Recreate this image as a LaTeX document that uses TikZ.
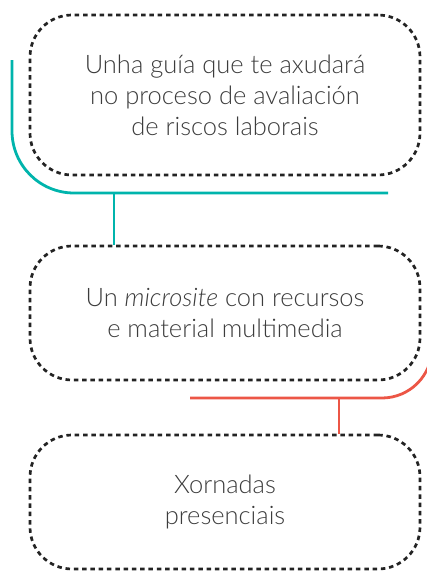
\documentclass[tikz,border=0pt]{standalone}
\usepackage{fontspec}
\setmainfont{Lato}[UprightFont=* Light, ItalicFont=* Light Italic]
\usepackage{xcolor}
\usetikzlibrary{positioning}
\definecolor{tealline}{RGB}{0,180,172}
\definecolor{redline}{RGB}{236,86,70}
\definecolor{dotgray}{RGB}{35,35,35}
\definecolor{txtgray}{RGB}{60,60,60}
\tikzset{
    dotbox/.style={draw=dotgray, line width=2.7pt, dash pattern=on 4.5pt off 3.8pt,
        rounded corners=42pt, minimum width=390pt, align=center, text=txtgray,
        font=\fontsize{25.5}{31}\selectfont},
    linkline/.style={line width=2.8pt}
}
\begin{document}
\begin{tikzpicture}[x=1pt, y=-1pt]
        \useasboundingbox (0,0) rectangle (427,574);
        \clip (0,0) rectangle (427,574);

        % Boxes with the three resources
        \node[dotbox, minimum height=160pt] (guide) at (225,95) {Unha guía que te axudará\\no proceso de avaliación\\de riscos laborais};
        \node[dotbox, minimum height=134pt] (microsite) at (225,313) {Un \textit{microsite} con recursos\\e material multimedia};
        \node[dotbox, minimum height=134pt] (sessions) at (225,502) {Xornadas\\presenciais};

        % Teal bracket round the guide, joined to the microsite
        \coordinate (tealstart) at (12,60);
        \coordinate (tealend) at (388,193);
        \coordinate (tealjoin) at (114,193);
        \draw[linkline, tealline, rounded corners=62pt] (tealstart) |- (tealend);
        \draw[linkline, tealline] (tealjoin) -- (microsite.north -| tealjoin);

        % Red bracket under the microsite, joined to the sessions
        \coordinate (redstart) at (190,398);
        \coordinate (redcorner) at (432,398);
        \coordinate (redend) at (432,330);
        \coordinate (redjoin) at (339,398);
        \draw[linkline, redline, rounded corners=50pt] (redstart) -- (redcorner) -- (redend);
        \draw[linkline, redline] (redjoin) -- (sessions.north -| redjoin);
    \end{tikzpicture}
\end{document}
